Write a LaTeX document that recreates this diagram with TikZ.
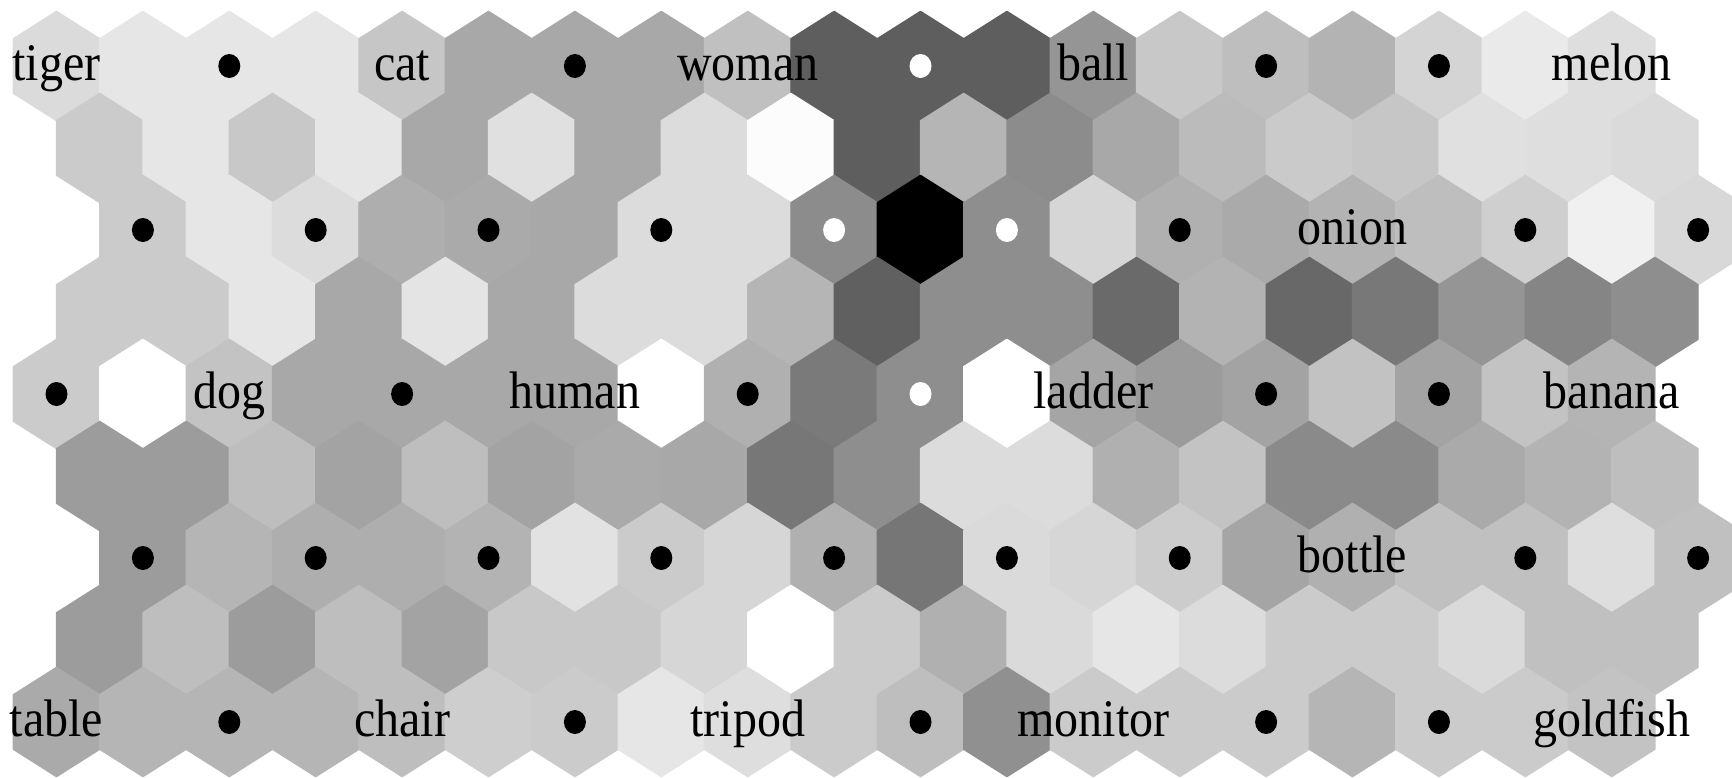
\documentclass[tikz,border=0pt]{standalone}
\usepackage{graphicx}
\usepackage{fontspec}
\setmainfont{Liberation Serif}
\tikzstyle{cell} = [line width=0.6pt, line join=round]
\tikzstyle{neuron} = [fill=black]
\tikzstyle{hotneuron} = [fill=white]
\tikzstyle{word} = [anchor=base, inner sep=0pt, text=black, font=\fontsize{24pt}{24pt}\selectfont]
\newcommand{\wordbox}[1]{\scalebox{1}[1.1]{#1}}

\begin{document}
\begin{tikzpicture}[x=0.5pt,y=-0.5pt]
\useasboundingbox (0,0) rectangle (1732,777);
\clip (0,0) rectangle (1732,777);

% u-matrix cells, 19 per row, rows top to bottom
\foreach \g [count=\i from 0] in {
  219,230,230,230,198,168,168,168,192,94,94,94,149,200,190,179,212,234,222,
  203,230,200,230,168,224,168,220,252,94,181,140,168,187,202,198,224,222,218,
  203,230,220,174,170,168,220,220,140,0,142,214,176,170,179,190,207,240,216,
  203,203,230,168,228,168,220,220,181,96,142,142,106,179,104,120,149,133,142,
  203,255,195,168,168,168,168,255,176,122,142,255,165,155,163,194,163,195,180,
  156,156,190,163,190,163,170,168,119,142,220,220,176,195,138,138,170,179,190,
  156,181,174,174,179,226,203,214,176,118,218,214,204,165,176,192,192,222,192,
  156,190,156,190,163,200,200,214,255,203,176,218,230,220,203,203,218,192,192,
  170,181,181,181,190,206,203,230,222,203,190,144,203,203,203,181,203,203,195
}{
  \pgfmathtruncatemacro{\r}{floor(\i/19)}
  \pgfmathtruncatemacro{\k}{mod(\i,19)}
  \pgfmathsetmacro{\xc}{56.5+43.2*(1-cos(90*\r))+86.4*\k}
  \pgfmathsetmacro{\yc}{66+82*\r}
  \pgfmathsetmacro{\gv}{\g/255}
  \definecolor{cellgray}{gray}{\gv}
  \filldraw[cell, cellgray] (\xc,\yc) +(0,-54.7) -- +(43.2,-27.35) -- +(43.2,27.35)
    -- +(0,54.7) -- +(-43.2,27.35) -- +(-43.2,-27.35) -- cycle;
}

% units without a word
\foreach \r/\k in {0/2,0/6,0/14,0/16, 2/0,2/2,2/4,2/6,2/12,2/16,2/18,
                   4/0,4/4,4/8,4/14,4/16, 6/0,6/2,6/4,6/6,6/8,6/10,6/12,6/16,6/18,
                   8/2,8/6,8/10,8/14,8/16} {
  \pgfmathsetmacro{\xn}{56.5+43.2*(1-cos(90*\r))+86.4*\k}
  \pgfmathsetmacro{\yn}{66+82*\r}
  \fill[neuron] (\xn,\yn) ellipse [x radius=5.5pt, y radius=6pt];
}
\foreach \r/\k in {0/10, 2/8, 2/10, 4/10} {
  \pgfmathsetmacro{\xn}{56.5+43.2*(1-cos(90*\r))+86.4*\k}
  \pgfmathsetmacro{\yn}{66+82*\r}
  \fill[hotneuron] (\xn,\yn) ellipse [x radius=5.5pt, y radius=6pt];
}

% words
\node[word] (tiger) at (56.5,80.5) {\wordbox{tiger}};
\node[word] (cat) at (402.1,80.5) {\wordbox{cat}};
\node[word] (woman) at (747.7,80.5) {\wordbox{woman}};
\node[word] (ball) at (1093.3,80.5) {\wordbox{ball}};
\node[word] (melon) at (1611.7,80.5) {\wordbox{melon}};
\node[word] (onion) at (1352.5,244.5) {\wordbox{onion}};
\node[word] (dog) at (229.3,408.5) {\wordbox{dog}};
\node[word] (human) at (574.9,408.5) {\wordbox{human}};
\node[word] (ladder) at (1093.3,408.5) {\wordbox{ladder}};
\node[word] (banana) at (1611.7,408.5) {\wordbox{banana}};
\node[word] (bottle) at (1352.5,572.5) {\wordbox{bottle}};
\node[word] (table) at (56.5,736.5) {\wordbox{table}};
\node[word] (chair) at (402.1,736.5) {\wordbox{chair}};
\node[word] (tripod) at (747.7,736.5) {\wordbox{tripod}};
\node[word] (monitor) at (1093.3,736.5) {\wordbox{monitor}};
\node[word] (goldfish) at (1611.7,736.5) {\wordbox{goldfish}};

\end{tikzpicture}
\end{document}
